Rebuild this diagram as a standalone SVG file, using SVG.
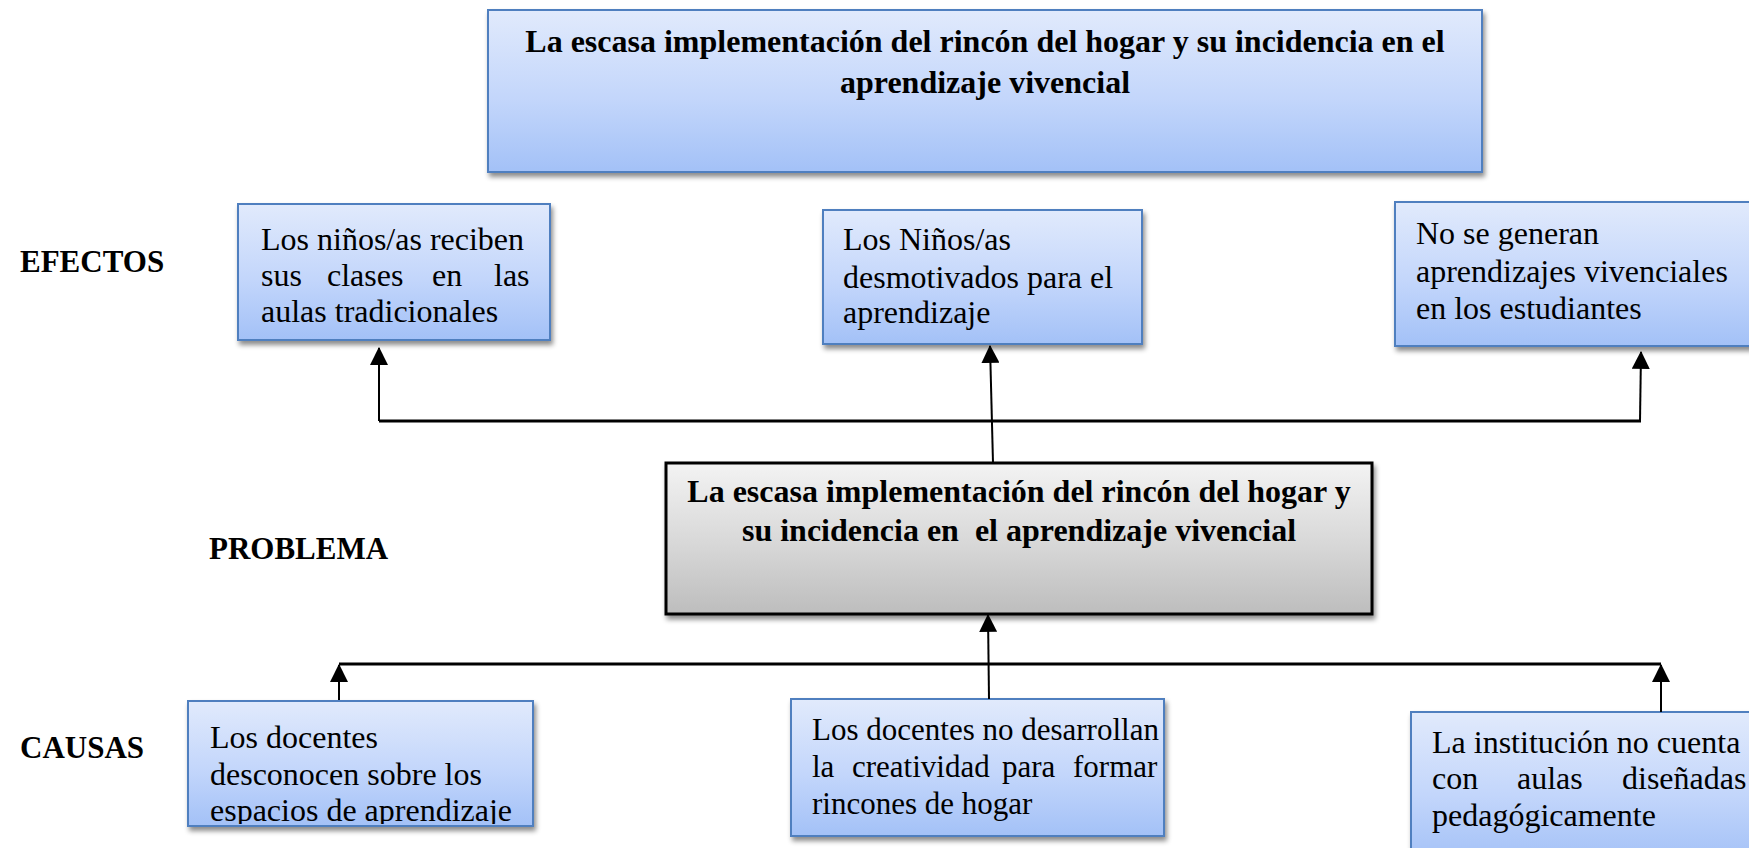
<svg xmlns="http://www.w3.org/2000/svg" width="1749" height="848" viewBox="0 0 1749 848">
<defs>
<linearGradient id="gBlue" x1="0" y1="0" x2="0" y2="1">
<stop offset="0" stop-color="#e1eafc"/>
<stop offset="0.55" stop-color="#c3d6fb"/>
<stop offset="1" stop-color="#a3c1f7"/>
</linearGradient>
<linearGradient id="gGray" x1="0" y1="0" x2="0" y2="1">
<stop offset="0" stop-color="#f3f3f3"/>
<stop offset="0.55" stop-color="#d7d7d7"/>
<stop offset="1" stop-color="#bdbdbd"/>
</linearGradient>
<filter id="sh" x="-5%" y="-10%" width="115%" height="130%">
<feDropShadow dx="2" dy="4" stdDeviation="2.5" flood-color="#000" flood-opacity="0.45"/>
</filter>
<marker id="ah" markerUnits="userSpaceOnUse" markerWidth="18" markerHeight="18" viewBox="0 0 16 16" refX="15" refY="8" orient="auto">
<path d="M0,0 L16,8 L0,16 Z" fill="#000"/>
</marker>
<clipPath id="c1"><rect x="189" y="702" width="343" height="122"/></clipPath>
</defs>
<style>
.box{fill:url(#gBlue);stroke:#4f7fbf;stroke-width:2;filter:url(#sh)}
.pbox{fill:url(#gGray);stroke:#000;stroke-width:3;filter:url(#sh)}
.t{font-family:"Liberation Serif","Times New Roman",serif;font-size:32px;fill:#000}
.t31{font-size:31px}
.b{font-family:"Liberation Serif","Times New Roman",serif;font-size:32px;font-weight:bold;fill:#000}
.lab{font-size:31px}
.ln{stroke:#000;stroke-width:2;fill:none}
.hl{stroke:#000;stroke-width:3;fill:none}
</style>

<g id="label-efectos"><text class="b lab" x="20" y="272">EFECTOS</text></g>
<g id="label-problema"><text class="b lab" x="209" y="559">PROBLEMA</text></g>
<g id="label-causas"><text class="b lab" x="20" y="758">CAUSAS</text></g>

<g id="title">
<rect class="box" x="488" y="10" width="994" height="162"/>
<text class="b" x="985" y="52" text-anchor="middle">La escasa implementación del rincón del hogar y su incidencia en el</text>
<text class="b" x="985" y="93" text-anchor="middle">aprendizaje vivencial</text>
</g>

<g id="efecto1">
<rect class="box" x="238" y="204" width="312" height="136"/>
<text class="t" y="250"><tspan x="261">Los niños/as reciben</tspan></text>
<text class="t" y="286"><tspan x="261">sus</tspan><tspan x="327">clases</tspan><tspan x="432">en</tspan><tspan x="494">las</tspan></text>
<text class="t" x="261" y="322">aulas tradicionales</text>
</g>

<g id="efecto2">
<rect class="box" x="823" y="210" width="319" height="134"/>
<text class="t" x="843" y="250">Los Niños/as</text>
<text class="t" x="843" y="288">desmotivados para el</text>
<text class="t" x="843" y="323">aprendizaje</text>
</g>

<g id="efecto3">
<rect class="box" x="1395" y="202" width="380" height="144"/>
<text class="t" x="1416" y="244">No se generan</text>
<text class="t" x="1416" y="282">aprendizajes vivenciales</text>
<text class="t" x="1416" y="319">en los estudiantes</text>
</g>

<g id="problema">
<rect class="pbox" x="666" y="463" width="706" height="151"/>
<text class="b" x="1019" y="502" text-anchor="middle">La escasa implementación del rincón del hogar y</text>
<text class="b" x="1019" y="541" text-anchor="middle" xml:space="preserve">su incidencia en  el aprendizaje vivencial</text>
</g>

<g id="causa1">
<rect class="box" x="188" y="701" width="345" height="125"/>
<g clip-path="url(#c1)">
<text class="t" x="210" y="748">Los docentes</text>
<text class="t" x="210" y="785">desconocen sobre los</text>
<text class="t" x="210" y="821">espacios de aprendizaje</text>
</g>
</g>

<g id="causa2">
<rect class="box" x="791" y="699" width="373" height="137"/>
<text class="t t31" x="812" y="740">Los docentes no desarrollan</text>
<text class="t t31" y="777"><tspan x="812">la</tspan><tspan x="852">creatividad</tspan><tspan x="1002">para</tspan><tspan x="1073">formar</tspan></text>
<text class="t t31" x="812" y="814">rincones de hogar</text>
</g>

<g id="causa3">
<rect class="box" x="1411" y="712" width="360" height="150"/>
<text class="t" x="1432" y="753">La institución no cuenta</text>
<text class="t" y="789"><tspan x="1432">con</tspan><tspan x="1517">aulas</tspan><tspan x="1622">diseñadas</tspan></text>
<text class="t" x="1432" y="826">pedagógicamente</text>
</g>

<g id="connectors">
<path class="hl" d="M379,421 H1641"/>
<path class="ln" d="M379,421 V348" marker-end="url(#ah)"/>
<path class="ln" d="M993,463 L990,346" marker-end="url(#ah)"/>
<path class="ln" d="M1640,421 L1641,352" marker-end="url(#ah)"/>
<path class="hl" d="M339,664 H1661"/>
<path class="ln" d="M339,700 V665" marker-end="url(#ah)"/>
<path class="ln" d="M989,699 L988,615" marker-end="url(#ah)"/>
<path class="ln" d="M1661,712 V665" marker-end="url(#ah)"/>
</g>
</svg>
